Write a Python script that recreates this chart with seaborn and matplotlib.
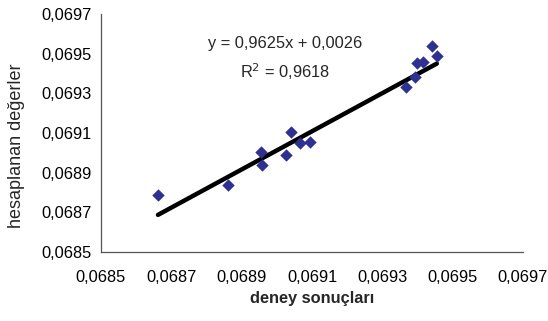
import numpy as np
import pandas as pd
import matplotlib
matplotlib.use("Agg")
import matplotlib.pyplot as plt
from matplotlib.ticker import FuncFormatter, FixedLocator
import seaborn as sns

# okunan değerler (deney sonuçları / hesaplanan değerler)
deney = [0.068662, 0.068860, 0.068955, 0.068957, 0.069027, 0.069040, 0.069067,
         0.069093, 0.069368, 0.069392, 0.069398, 0.069417, 0.069441, 0.069455]
hesap = [0.068786, 0.068837, 0.069004, 0.068939, 0.068990, 0.069106, 0.069050,
         0.069057, 0.069332, 0.069382, 0.069451, 0.069457, 0.069537, 0.069489]
egim = 0.9625
kesim = 0.0026
r2 = 0.9618
eksen_ticks = [0.0685, 0.0687, 0.0689, 0.0691, 0.0693, 0.0695, 0.0697]

sns.set_theme(style="white")
plt.rcParams['font.family'] = ['Liberation Sans', 'DejaVu Sans']

df = pd.DataFrame({'deney': deney, 'hesap': hesap})
x_line = np.array([min(deney), max(deney)])
df_line = pd.DataFrame({'x': x_line, 'y': egim * x_line + kesim})

fig = plt.figure(figsize=(5.48, 3.21), dpi=100)
ax = fig.add_axes([0.1843, 0.215, 0.770, 0.741])

sns.lineplot(data=df_line, x='x', y='y', color='black', linewidth=3.2, ax=ax)
sns.scatterplot(data=df, x='deney', y='hesap', marker='D', s=40, color='#2E3192',
                edgecolor='#2E3192', linewidth=0, ax=ax, zorder=3)

ax.set_xlim(eksen_ticks[0], eksen_ticks[-1])
ax.set_ylim(eksen_ticks[0], eksen_ticks[-1])
ax.xaxis.set_major_locator(FixedLocator(eksen_ticks))
ax.yaxis.set_major_locator(FixedLocator(eksen_ticks))
fmt = FuncFormatter(lambda v, p: f"{v:.4f}".replace('.', ','))
ax.xaxis.set_major_formatter(fmt)
ax.yaxis.set_major_formatter(fmt)

for s in ['top', 'right']:
    ax.spines[s].set_visible(False)
for s in ['left', 'bottom']:
    ax.spines[s].set_color('#555555')
    ax.spines[s].set_linewidth(0.9)
ax.tick_params(axis='both', which='major', direction='out', length=4, width=0.9,
               color='#555555', labelsize=11.8, labelcolor='black', pad=3)
ax.tick_params(axis='x', pad=9)

ax.set_xlabel('deney sonuçları', fontsize=11.8, fontweight='bold')
ax.set_ylabel('hesaplanan değerler', fontsize=13)
ax.xaxis.set_label_coords(0.5, -0.165)
ax.yaxis.set_label_coords(-0.181, 0.445)

ax.text(0.069023, 0.069554, f"y = {egim:.4f}x + {kesim:.4f}".replace('.', ','),
        ha='center', va='center', fontsize=11.8)
ax.text(0.069023, 0.069408, f"R$^2$ = {r2:.4f}".replace('.', ','),
        ha='center', va='center', fontsize=11.8)

fig.savefig('out.png', dpi=100)
